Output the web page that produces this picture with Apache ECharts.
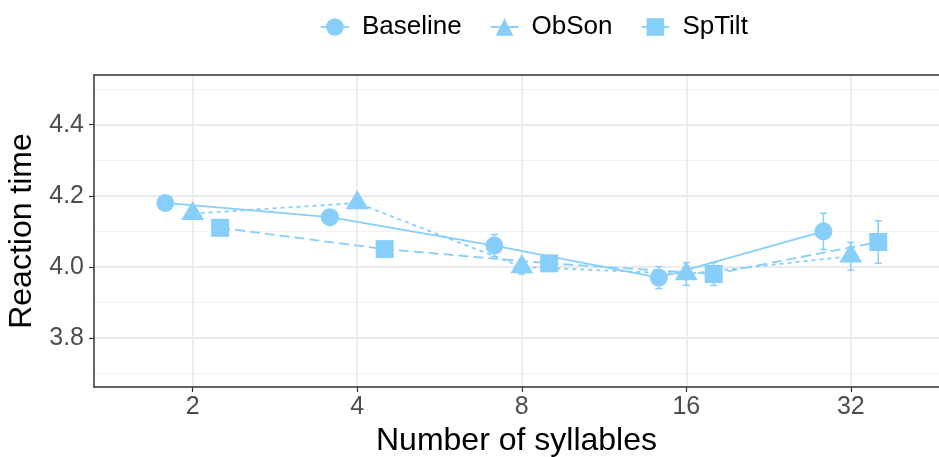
<!DOCTYPE html>
<html><head><meta charset="utf-8">
<script src="https://cdn.jsdelivr.net/npm/echarts@6/dist/echarts.min.js"></script>
<style>html,body{margin:0;padding:0;background:#fff}#c{width:939px;height:457px}</style>
</head><body><div id="c"></div>
<script>
// ---- data ----
const categories = ['2', '4', '8', '16', '32'];
const seriesNames = ['Baseline', 'ObSon', 'SpTilt'];
const baselineMean = [4.18, 4.14, 4.06, 3.97, 4.10];
const baselineErr  = [0.015, 0.015, 0.031, 0.031, 0.051];
const obsonMean    = [4.15, 4.18, 4.00, 3.98, 4.03];
const obsonErr     = [0.015, 0.015, 0.02, 0.032, 0.039];
const sptiltMean   = [4.11, 4.05, 4.01, 3.98, 4.07];
const sptiltErr    = [0.015, 0.015, 0.02, 0.032, 0.06];
const yTicks = [3.8, 4.0, 4.2, 4.4];
const yMinorTicks = [3.7, 3.9, 4.1, 4.3, 4.5];

// ---- style ----
const COLOR = '#87CEFA';
const DODGE = [-1 / 6, 0, 1 / 6];
const FONT = 'Liberation Sans, Arial, Helvetica, sans-serif';
const catIdx = categories.map((c, i) => i);

const means = [baselineMean, obsonMean, sptiltMean];
const errs = [baselineErr, obsonErr, sptiltErr];
const symbols = ['circle', 'triangle', 'rect'];
const symbolSizes = [18, [23, 19], 18];
const symbolOffsets = [[0, 0], [0, -3.2], [0, 0]];
const lineTypes = ['solid', [4, 4], [10, 5]];

const series = [];
means.forEach((m, s) => {
  series.push({
    type: 'line', name: seriesNames[s],
    data: m.map((v, i) => [catIdx[i] + DODGE[s], v]),
    symbol: symbols[s], symbolSize: symbolSizes[s], symbolOffset: symbolOffsets[s],
    showSymbol: true,
    itemStyle: { color: COLOR, opacity: 1 },
    lineStyle: { color: COLOR, width: 1.8, type: lineTypes[s] },
    z: 3, animation: false
  });
});
means.forEach((m, s) => {
  series.push({
    type: 'custom', name: seriesNames[s] + ' err',
    data: m.map((v, i) => [catIdx[i] + DODGE[s], v - errs[s][i], v + errs[s][i]]),
    renderItem: function (params, api) {
      const x = api.value(0);
      const lo = api.coord([x, api.value(1)]);
      const hi = api.coord([x, api.value(2)]);
      const hw = 3.5;
      const st = { stroke: COLOR, lineWidth: 1.5 };
      return { type: 'group', children: [
        { type: 'line', shape: { x1: lo[0], y1: lo[1], x2: hi[0], y2: hi[1] }, style: st },
        { type: 'line', shape: { x1: lo[0] - hw, y1: lo[1], x2: lo[0] + hw, y2: lo[1] }, style: st },
        { type: 'line', shape: { x1: hi[0] - hw, y1: hi[1], x2: hi[0] + hw, y2: hi[1] }, style: st }
      ]};
    },
    z: 4, animation: false
  });
});

const chart = echarts.init(document.getElementById('c'), null, { renderer: 'canvas' });
chart.setOption({
  animation: false,
  backgroundColor: '#fff',
  textStyle: { fontFamily: FONT },
  grid: { left: 94, right: 0, top: 75, bottom: 70, containLabel: false, outerBoundsMode: 'none' },
  legend: {
    data: seriesNames, left: 315, top: 9, itemWidth: 28, itemHeight: 22, itemGap: 28,
    textStyle: { fontSize: 26, color: '#000', fontFamily: FONT, padding: [0, 0, 0, 8] },
    lineStyle: { type: 'solid', width: 1.8 }
  },
  xAxis: [{
    type: 'value', min: -0.6, max: 4.536, position: 'bottom',
    name: 'Number of syllables', nameLocation: 'middle', nameGap: 37,
    nameTextStyle: { fontSize: 32, color: '#000', fontFamily: FONT },
    axisLine: { show: true, onZero: false, lineStyle: { color: '#333', width: 1.5 } },
    axisTick: { show: true, length: 5, customValues: catIdx, lineStyle: { color: '#333', width: 1.2 } },
    axisLabel: { customValues: catIdx, formatter: v => categories[Math.round(v)], fontSize: 25, color: '#4D4D4D', margin: 8, fontFamily: FONT },
    splitLine: { show: true, lineStyle: { color: '#EBEBEB', width: 1.8 } }
  }, {
    type: 'value', min: -0.6, max: 4.536, position: 'top',
    axisLine: { show: true, onZero: false, lineStyle: { color: '#333', width: 1.5 } },
    axisTick: { show: false }, axisLabel: { show: false }, splitLine: { show: false }
  }],
  yAxis: [{
    type: 'value', min: 3.662, max: 4.540, position: 'left',
    name: 'Reaction time', nameLocation: 'middle', nameGap: 54,
    nameTextStyle: { fontSize: 32, color: '#000', fontFamily: FONT },
    axisLine: { show: true, onZero: false, lineStyle: { color: '#333', width: 1.5 } },
    axisTick: { show: true, length: 5, customValues: yTicks, lineStyle: { color: '#333', width: 1.2 } },
    axisLabel: { customValues: yTicks, formatter: v => v.toFixed(1), fontSize: 25, color: '#4D4D4D', margin: 10, fontFamily: FONT },
    splitLine: { show: true, lineStyle: { color: '#EBEBEB', width: 1.8 } },
    z: 1
  }, {
    type: 'value', min: 3.662, max: 4.540, position: 'left',
    axisLine: { show: false, onZero: false },
    axisTick: { show: false, customValues: yMinorTicks },
    axisLabel: { show: false },
    splitLine: { show: true, lineStyle: { color: '#F2F2F2', width: 1 } },
    z: 0
  }],
  series: series
});
</script>
</body></html>
